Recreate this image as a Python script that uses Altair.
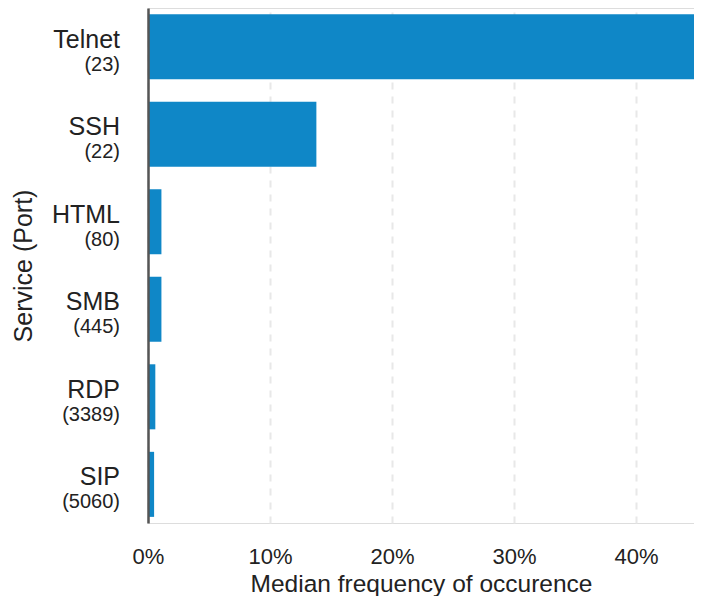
import altair as alt
import pandas as pd

services = ["Telnet", "SSH", "HTML", "SMB", "RDP", "SIP"]
ports = ["(23)", "(22)", "(80)", "(445)", "(3389)", "(5060)"]
values = [0.454, 0.138, 0.011, 0.011, 0.006, 0.005]
tick_values = [0, 0.1, 0.2, 0.3, 0.4]

df = pd.DataFrame({"service": services, "port": ports, "value": values})

FONT = "Liberation Sans"
TXT = "#222222"
BAR = "#0f87c7"

y_enc = alt.Y(
    "service:N",
    sort=services,
    scale=alt.Scale(paddingInner=0.257, paddingOuter=0.07),
    axis=alt.Axis(
        title="Service (Port)",
        labels=False,
        ticks=False,
        grid=False,
        domainColor="#555555",
        domainWidth=2.5,
        titleFont=FONT,
        titleFontSize=25,
        titleFontWeight="normal",
        titleColor=TXT,
        titleX=-125,
        titleBaseline="middle",
        zindex=1,
    ),
)

x_enc = alt.X(
    "value:Q",
    scale=alt.Scale(domain=[0, 0.4475], nice=False),
    axis=alt.Axis(
        title="Median frequency of occurence",
        values=tick_values,
        format=".0%",
        ticks=False,
        tickSize=0,
        domain=False,
        grid=True,
        gridColor="#e8e8e8",
        gridWidth=2,
        gridDash=[7, 7],
        labelFont=FONT,
        labelFontSize=22,
        labelColor=TXT,
        labelPadding=40,
        labelBaseline="alphabetic",
        labelFlush=False,
        titleFont=FONT,
        titleFontSize=24.5,
        titleFontWeight="normal",
        titleColor=TXT,
        titleY=68,
        titleBaseline="alphabetic",
        zindex=0,
    ),
)

bars = alt.Chart(df).mark_bar(color=BAR, clip=True).encode(x=x_enc, y=y_enc)

names = alt.Chart(df).mark_text(
    align="right", baseline="alphabetic", dy=1, font=FONT, fontSize=25, color=TXT
).encode(
    y=alt.Y("service:N", sort=services),
    x=alt.value(-28),
    text="service:N",
)

port_txt = alt.Chart(df).mark_text(
    align="right", baseline="alphabetic", dy=24, font=FONT, fontSize=20, color=TXT
).encode(
    y=alt.Y("service:N", sort=services),
    x=alt.value(-28),
    text="port:N",
)

chart = (
    alt.layer(bars, names, port_txt)
    .properties(
        width=546,
        height=515,
        autosize=alt.AutoSizeParams(type="none"),
        padding={"left": 140, "top": 0, "right": 0, "bottom": 73},
    )
    .configure_view(stroke=None)
    .configure(background="white")
)

chart.save("out.html", embed_options={"renderer": "svg", "actions": False})
